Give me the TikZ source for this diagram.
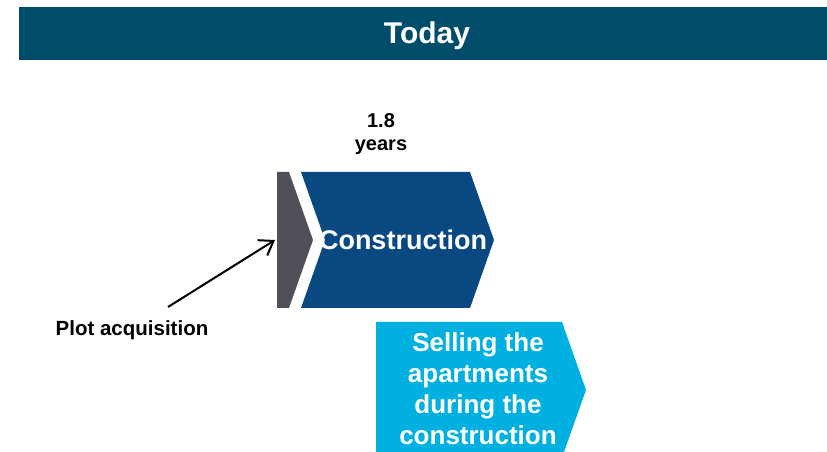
\documentclass[tikz,border=0pt]{standalone}
\usepackage{fontspec}
\setmainfont{Liberation Sans}
\usetikzlibrary{arrows.meta}
\definecolor{bannerc}{RGB}{0,77,107}
\definecolor{constrc}{RGB}{9,72,128}
\definecolor{plotc}{RGB}{80,80,88}
\definecolor{sellc}{RGB}{0,176,224}
\begin{document}
\begin{tikzpicture}[x=1pt,y=1pt,
  whitetxt/.style={text=white, font=\bfseries\fontsize{27}{31.5}\selectfont, inner sep=0pt, align=center},
  blacktxt/.style={text=black, font=\bfseries\fontsize{20}{23}\selectfont, inner sep=0pt, align=center},
  pointer/.style={line width=2pt, -{Straight Barb[length=13pt,width=18pt,line width=2pt]}}]
\useasboundingbox (0,0) rectangle (827,452);
% banner
\fill[bannerc] (19,392) rectangle (827,445);
\node[whitetxt, font=\bfseries\fontsize{30}{34}\selectfont, anchor=base] (today) at (427,408) {Today};
% plot acquisition bar
\fill[plotc] (277,280) -- (289,280) -- (313,212) -- (289,144) -- (277,144) -- cycle;
\coordinate (plotbar) at (275,212);
% construction chevron
\fill[constrc] (301,280) -- (470,280) -- (494,212) -- (470,144) -- (301,144) -- (325,212) -- cycle;
\node[whitetxt, anchor=base] (constr) at (403,202) {Construction};
% selling chevron
\fill[sellc] (376,130) -- (562,130) -- (586,62) -- (564,0) -- (376,0) -- cycle;
\node[whitetxt, font=\bfseries\fontsize{26}{31}\selectfont] (sell) at (478,63) {Selling the\\apartments\\during the\\construction};
% labels
\node[blacktxt] (dur) at (381,318) {1.8\\years};
\node[blacktxt, font=\bfseries\fontsize{20.5}{24}\selectfont, anchor=base] (plot) at (132,116) {Plot acquisition};
\coordinate (arrstart) at (168,145);
\draw[pointer] (arrstart) -- (plotbar);
\end{tikzpicture}
\end{document}
